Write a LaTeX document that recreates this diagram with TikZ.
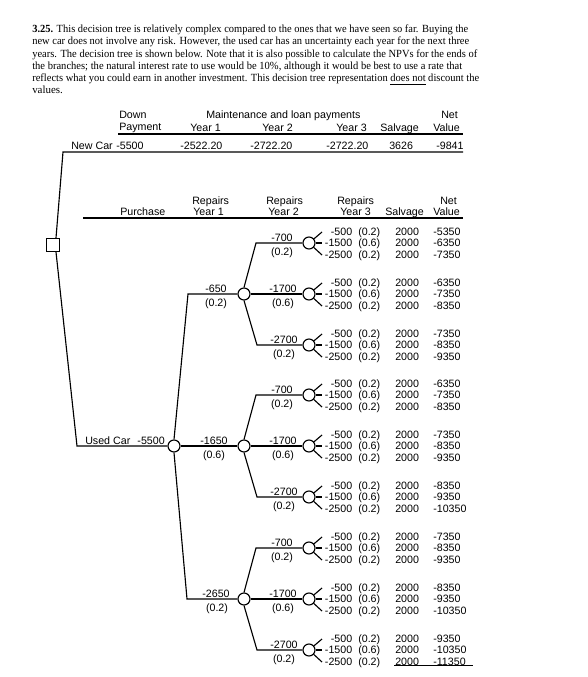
\documentclass[tikz,border=0pt]{standalone}
\usepackage{fontspec}
\usepackage{graphicx}
\setmainfont{Liberation Serif}
\setsansfont{Liberation Sans}
\usetikzlibrary{calc}
\newcommand\fanrows[4]{%
  \draw[br] (#1.40) -- ($(#1)+(13,-11)$);
  \draw[br] (#1.east) -- ($(#1)+(13,0)$);
  \draw[br] (#1.-43) -- ($(#1)+(13,12)$);
  \node[lbl,anchor=mid east] at ($(#1)+(43.5,-11)$) {-500};
  \node[lbl,anchor=mid east] at ($(#1)+(43.5,0)$) {-1500};
  \node[lbl,anchor=mid east] at ($(#1)+(43.5,12)$) {-2500};
  \node[lbl,anchor=mid west] at ($(#1)+(49,-11)$) {(0.2)};
  \node[lbl,anchor=mid west] at ($(#1)+(49,0)$) {(0.6)};
  \node[lbl,anchor=mid west] at ($(#1)+(49,12)$) {(0.2)};
  \node[lbl,anchor=mid west] at ($(#1)+(86,-11)$) {2000};
  \node[lbl,anchor=mid west] at ($(#1)+(86,0)$) {2000};
  \node[lbl,anchor=mid west] at ($(#1)+(86,12)$) {2000};
  \node[lbl,anchor=mid west] at ($(#1)+(124,-11)$) {#2};
  \node[lbl,anchor=mid west] at ($(#1)+(124,0)$) {#3};
  \node[lbl,anchor=mid west] at ($(#1)+(124,12)$) {#4};
}
% year-2 group hanging from year-1 node #1
\newcommand\yeartwo[1]{%
  \coordinate (#1t) at ($(#1)+(12,-51)$);
  \coordinate (#1b) at ($(#1)+(13,51)$);
  \node[chance] (#1a) at ($(#1)+(65,-51)$) {};
  \node[chance] (#1m) at ($(#1)+(65,0)$) {};
  \node[chance] (#1c) at ($(#1)+(65,51)$) {};
  \draw[br] (#1.north) -- (#1t) -- (#1a);
  \draw[br] (#1) -- (#1m);
  \draw[br] (#1.south) -- (#1b) -- (#1c);
  \node[lbl,anchor=base] at ($(#1)+(38,-52.5)$) {-700};
  \node[lbl,anchor=mid] at ($(#1)+(38,-42)$) {(0.2)};
  \node[lbl,anchor=base] at ($(#1)+(39,-1.5)$) {-1700};
  \node[lbl,anchor=mid] at ($(#1)+(39,9)$) {(0.6)};
  \node[lbl,anchor=base] at ($(#1)+(40,49.5)$) {-2700};
  \node[lbl,anchor=mid] at ($(#1)+(40,60)$) {(0.2)};
}
\newcommand\parline[2]{\resizebox{#1}{\height}{#2}}
\begin{document}
\begin{tikzpicture}[x=0.75pt,y=-0.75pt,
  lbl/.style={font=\sffamily\fontsize{8}{9}\selectfont,inner sep=0pt},
  par/.style={font=\rmfamily\fontsize{8.2}{9}\selectfont,inner sep=0pt,anchor=base west},
  br/.style={line width=0.85pt},
  hl/.style={line width=1.2pt},
  chance/.style={circle,draw,line width=0.85pt,fill=white,minimum size=9pt,inner sep=0pt},
  dec/.style={rectangle,draw,line width=0.85pt,fill=white,minimum size=9.75pt,inner sep=0pt}]
\useasboundingbox[fill=white] (0,0) rectangle (587,677);

% paragraph
\node[par] (p1) at (32,33) {\parline{327pt}{\textbf{3.25.} This decision tree is relatively complex compared to the ones that we have seen so far. Buying the}};
\node[par] (p2) at (32,45) {\parline{327.75pt}{new car does not involve any risk. However, the used car has an uncertainty each year for the next three}};
\node[par] (p3) at (32,57.5) {\parline{333.75pt}{years. The decision tree is shown below. Note that it is also possible to calculate the NPVs for the ends of}};
\node[par] (p4) at (32,70) {\parline{322.5pt}{the branches; the natural interest rate to use would be 10\%, although it would be best to use a rate that}};
\node[par] (p5) at (32,82) {\parline{335.25pt}{reflects what you could earn in another investment. This decision tree representation \underline{does not} discount the}};
\node[par] (p6) at (32,94) {values.};

% header 1
\node[lbl,anchor=mid west] (h1) at (119,115) {Down};
\node[lbl,anchor=mid west] (h2) at (119,127) {Payment};
\node[lbl,anchor=mid west] (h3) at (206,115) {Maintenance and loan payments};
\node[lbl,anchor=mid west] (h4) at (190,128) {Year 1};
\node[lbl,anchor=mid west] (h5) at (262,128) {Year 2};
\node[lbl,anchor=mid west] (h6) at (336,128) {Year 3};
\node[lbl,anchor=mid west] (h7) at (380,128) {Salvage};
\node[lbl,anchor=mid west] (h8) at (441,115) {Net};
\node[lbl,anchor=mid west] (h9) at (433,128) {Value};
\coordinate (hl1a) at (118,134); \coordinate (hl1b) at (463,134);
\draw[hl] (hl1a) -- (hl1b);

% header 2
\node[lbl,anchor=mid west] (g1) at (120,212) {Purchase};
\node[lbl,anchor=mid west] (g2) at (192,201) {Repairs};
\node[lbl,anchor=mid west] (g3) at (193,212) {Year 1};
\node[lbl,anchor=mid west] (g4) at (266,201) {Repairs};
\node[lbl,anchor=mid west] (g5) at (268,212) {Year 2};
\node[lbl,anchor=mid west] (g6) at (337,201) {Repairs};
\node[lbl,anchor=mid west] (g7) at (340,212) {Year 3};
\node[lbl,anchor=mid west] (g8) at (385,212) {Salvage};
\node[lbl,anchor=mid west] (g9) at (440,201) {Net};
\node[lbl,anchor=mid west] (g10) at (433,212) {Value};
\coordinate (hl2a) at (83,218); \coordinate (hl2b) at (463,218);
\draw[hl] (hl2a) -- (hl2b);

% decision node
\node[dec] (D) at (53,245) {};
\coordinate (nc) at (63,152); \coordinate (ncend) at (463,152);
\draw[br] ($(D.north)+(3,0)$) -- (nc) -- (ncend);
\node[lbl,anchor=base west] at (71,149.5) {New Car};
\node[lbl,anchor=base west] at (116,149.5) {-5500};
\node[lbl,anchor=base west] at (180,149.5) {-2522.20};
\node[lbl,anchor=base west] at (250,149.5) {-2722.20};
\node[lbl,anchor=base west] at (326,149.5) {-2722.20};
\node[lbl,anchor=base west] at (389,149.5) {3626};
\node[lbl,anchor=base west] at (436,149.5) {-9841};

% used car
\coordinate (uc) at (77,446);
\node[chance] (U) at (174,446) {};
\draw[br] ($(D.south)+(3,0)$) -- (uc) -- (U);
\node[lbl,anchor=base west] at (85,444.5) {Used Car};
\node[lbl,anchor=base east] at (165,444.5) {-5500};

% year 1
\node[chance] (A) at (244,294) {};
\node[chance] (B) at (244,446) {};
\node[chance] (C) at (244,599) {};
\coordinate (ua) at (188,294); \coordinate (uc2) at (187,599);
\draw[br] (U.north) -- (ua) -- (A);
\draw[br] (U) -- (B);
\draw[br] (U.south) -- (uc2) -- (C);
\node[lbl,anchor=base] at (216,292.5) {-650};
\node[lbl,anchor=mid] at (216,303) {(0.2)};
\node[lbl,anchor=base] at (214,444.5) {-1650};
\node[lbl,anchor=mid] at (214,455) {(0.6)};
\node[lbl,anchor=base] at (216,597.5) {-2650};
\node[lbl,anchor=mid] at (217,608) {(0.2)};

% year 2
\yeartwo{A}
\yeartwo{B}
\yeartwo{C}

% year 3 fans
\fanrows{Aa}{-5350}{-6350}{-7350}
\fanrows{Am}{-6350}{-7350}{-8350}
\fanrows{Ac}{-7350}{-8350}{-9350}
\fanrows{Ba}{-6350}{-7350}{-8350}
\fanrows{Bm}{-7350}{-8350}{-9350}
\fanrows{Bc}{-8350}{-9350}{-10350}
\fanrows{Ca}{-7350}{-8350}{-9350}
\fanrows{Cm}{-8350}{-9350}{-10350}
\fanrows{Cc}{-9350}{-10350}{-11350}

\coordinate (ula) at (394,665); \coordinate (ulb) at (473,665);
\draw[line width=0.6pt] (ula) -- (ulb);
\end{tikzpicture}
\end{document}
